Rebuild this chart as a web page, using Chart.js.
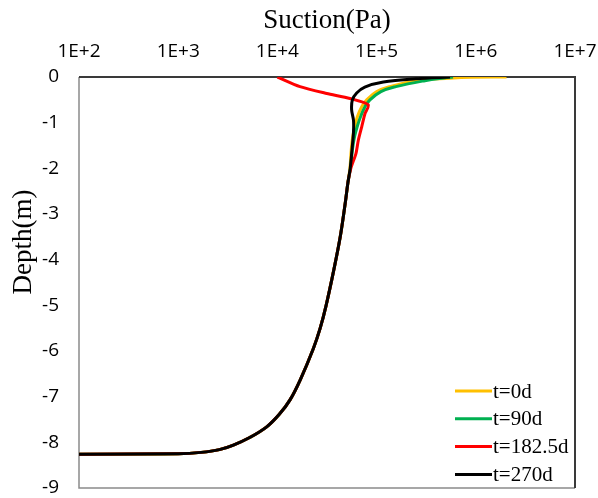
<!DOCTYPE html>
<html>
<head>
<meta charset="utf-8">
<script src="https://cdn.jsdelivr.net/npm/chart.js@4.4.0/dist/chart.umd.min.js"></script>
<style>
  body { margin: 0; background: #ffffff; }
</style>
</head>
<body>
<canvas id="graficoSuccion" width="598" height="498"></canvas>
<script>
// series y colores
let etiquetas = ['t=0d', 't=90d', 't=182.5d', 't=270d'];
let colores = ['#FFC000', '#00B050', '#FF0000', '#000000'];

// marcas del eje x (exponentes de 10)
let exponentesX = [2, 3, 4, 5, 6, 7];

// tramo profundo, igual en todas las curvas (succion Pa, profundidad m)
let succionComun = [100, 1000, 1700, 2600, 3600, 5200, 7800, 10500, 13400, 17000, 23000, 27000, 31000, 37000, 43000, 48300, 51500];
let profundidadComun = [-8.26, -8.25, -8.22, -8.16, -8.06, -7.9, -7.66, -7.38, -7.07, -6.63, -5.95, -5.5, -5.0, -4.23, -3.5, -2.76, -2.3];

// tramo superficial de cada curva
let succion0d = [53800, 55500, 57500, 61000, 64000, 70800, 79500, 100300, 136600, 253000, 550000, 900000, 2040000];
let profundidad0d = [-2.0, -1.6, -1.3, -1.05, -0.87, -0.65, -0.5, -0.32, -0.21, -0.08, -0.025, -0.005, 0];

let succion90d = [54500, 57000, 60000, 64500, 68900, 76400, 85700, 110600, 156700, 307000, 480000, 590000];
let profundidad90d = [-2.0, -1.6, -1.3, -1.05, -0.87, -0.65, -0.5, -0.32, -0.21, -0.08, -0.02, 0];

let succion182d = [55000, 62000, 65500, 70800, 76400, 82400, 53900, 31400, 16900, 10000];
let profundidad182d = [-2.0, -1.67, -1.38, -1.09, -0.8, -0.61, -0.47, -0.36, -0.21, 0];

let succion270d = [54200, 57000, 58500, 58500, 56000, 57000, 63000, 76000, 117000, 250000, 550000];
let profundidad270d = [-2.0, -1.5, -1.2, -0.95, -0.72, -0.5, -0.35, -0.22, -0.11, -0.04, 0];

function ArmarPuntos(succion, profundidad) {
  let puntos = [];
  for (let i = 0; i < succionComun.length; i++) {
    puntos.push({ x: succionComun[i], y: profundidadComun[i] });
  }
  for (let i = 0; i < succion.length; i++) {
    puntos.push({ x: succion[i], y: profundidad[i] });
  }
  return puntos;
}

let series = [
  ArmarPuntos(succion0d, profundidad0d),
  ArmarPuntos(succion90d, profundidad90d),
  ArmarPuntos(succion182d, profundidad182d),
  ArmarPuntos(succion270d, profundidad270d)
];
let tensiones = [0.4, 0.4, 0.25, 0.3];
let ordenes = [4, 3, 2, 1];

// marco del area, leyenda y titulo del eje y
let extras = {
  id: 'extras',
  beforeDatasetsDraw(chart) {
    let ctx = chart.ctx;
    let a = chart.chartArea;
    ctx.save();
    ctx.lineWidth = 1.5;
    ctx.strokeStyle = '#8a8a8a';
    ctx.beginPath();
    ctx.moveTo(a.left, a.top);
    ctx.lineTo(a.left, a.bottom);
    ctx.lineTo(a.right, a.bottom);
    ctx.stroke();
    ctx.lineWidth = 2;
    ctx.strokeStyle = '#3a3a3a';
    ctx.beginPath();
    ctx.moveTo(a.left, a.top);
    ctx.lineTo(a.right, a.top);
    ctx.lineTo(a.right, a.bottom);
    ctx.stroke();
    ctx.restore();
  },
  afterDraw(chart) {
    let ctx = chart.ctx;
    ctx.save();
    // leyenda
    ctx.font = '21px "Liberation Serif"';
    ctx.textAlign = 'left';
    ctx.textBaseline = 'middle';
    chart.data.datasets.forEach(function (ds, i) {
      let y = 391 + i * 27.8;
      ctx.strokeStyle = ds.borderColor;
      ctx.lineWidth = 3;
      ctx.beginPath();
      ctx.moveTo(455, y);
      ctx.lineTo(492, y);
      ctx.stroke();
      ctx.fillStyle = '#000000';
      ctx.fillText(ds.label, 493, y + 1);
    });
    // titulo eje y
    ctx.translate(24, 242);
    ctx.rotate(-Math.PI / 2);
    ctx.font = '27px "Liberation Serif"';
    ctx.textAlign = 'center';
    ctx.fillText('Depth(m)', 0, 0);
    ctx.restore();
  }
};

let ctx = document.getElementById('graficoSuccion');
let grafico = new Chart(ctx, {
  type: 'scatter',
  data: {
    datasets: series.map(function (puntos, i) {
      return {
        label: etiquetas[i],
        data: puntos,
        showLine: true,
        borderColor: colores[i],
        backgroundColor: colores[i],
        borderWidth: 3,
        pointRadius: 0,
        tension: tensiones[i],
        order: ordenes[i]
      };
    })
  },
  options: {
    responsive: false,
    animation: false,
    layout: { padding: { left: 0, right: 23, top: 0, bottom: 10 } },
    plugins: {
      legend: { display: false },
      tooltip: { enabled: false }
    },
    scales: {
      x: {
        type: 'logarithmic',
        position: 'top',
        min: 100,
        max: 10000000,
        grid: { display: false, drawTicks: false },
        border: { display: false },
        afterBuildTicks: function (eje) {
          eje.ticks = exponentesX.map(e => ({ value: Math.pow(10, e) }));
        },
        afterFit: function (eje) {
          eje.height = 77;
          eje.paddingLeft = 0;
          eje.paddingRight = 0;
        },
        ticks: {
          autoSkip: false,
          maxRotation: 0,
          padding: 14,
          color: '#000000',
          font: { family: 'Open Sans', size: 19 },
          callback: v => '1E+' + Math.round(Math.log10(v))
        },
        title: {
          display: true,
          text: 'Suction(Pa)',
          color: '#000000',
          font: { family: 'Liberation Serif', size: 27 },
          padding: { top: 5, bottom: 0 }
        }
      },
      y: {
        type: 'linear',
        min: -9,
        max: 0,
        grid: { display: false, drawTicks: false },
        border: { display: false },
        afterFit: function (eje) {
          eje.width = 79;
          eje.paddingTop = 0;
          eje.paddingBottom = 0;
        },
        ticks: {
          stepSize: 1,
          padding: 20,
          color: '#000000',
          font: { family: 'Open Sans', size: 19 },
          callback: v => String(v)
        }
      }
    }
  },
  plugins: [extras]
});
</script>
</body>
</html>
